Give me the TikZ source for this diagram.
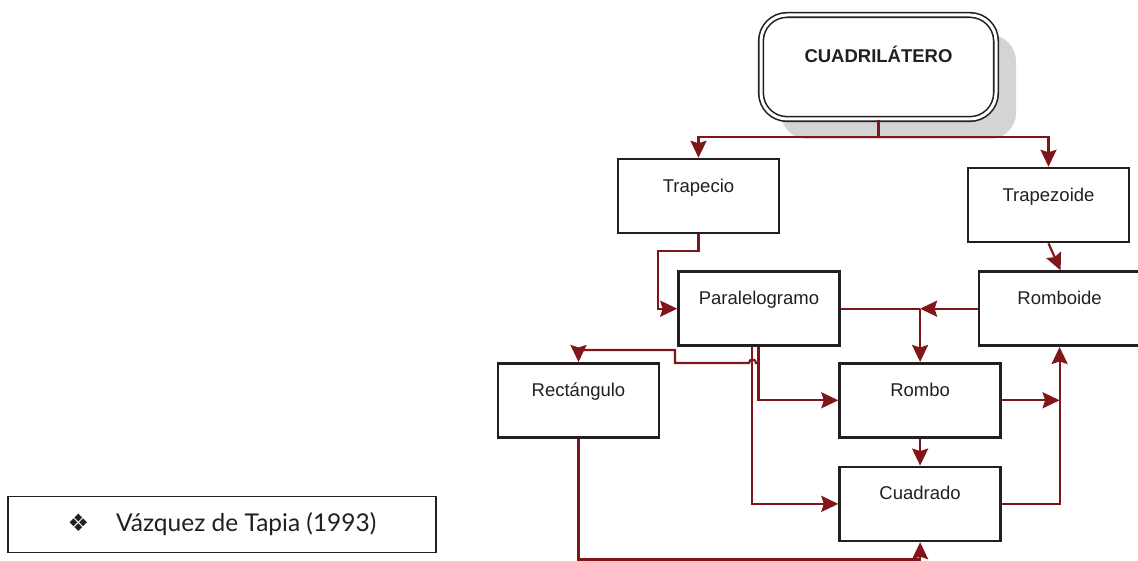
\documentclass[tikz,border=0pt]{standalone}
\usepackage{fontspec}
\setmainfont{Liberation Sans}
\newfontfamily\refsans{Lato}
\newfontfamily\symsans{DejaVu Sans}
\usepackage{xcolor}
\usetikzlibrary{positioning, arrows.meta, shadows}

\definecolor{linkred}{RGB}{128,22,26}
\definecolor{boxline}{RGB}{35,31,32}

\begin{document}
\begin{tikzpicture}[
  x=1pt, y=1pt,
  >={Stealth[length=17pt, width=16pt, inset=2.5pt]},
  every node/.style={font=\fontsize{18.5}{22}\selectfont, align=center, text=boxline},
  box/.style={draw=boxline, line width=2.6pt, minimum width=161pt, inner xsep=4pt, inner ysep=0pt,
              text height=33pt, text depth=41pt},
  topbox/.style={draw=boxline, double=white, double distance=3pt, line width=1.6pt, rounded corners=26pt,
                 fill=white, minimum width=235pt, inner ysep=0pt, text height=48pt, text depth=56pt,
                 font=\fontsize{18.5}{22}\selectfont\bfseries,
                 drop shadow={shadow xshift=20pt, shadow yshift=-20pt, fill=black!17, opacity=1}},
  link/.style={draw=linkred, line width=2.2pt},
]
\useasboundingbox (0,0) rectangle (1138,561);

% Row 1: root
\node[topbox] (cuad) at (878.5,494) {CUADRILÁTERO};

% Row 2
\node[box, below=38pt of cuad, xshift=-180pt] (trapecio) {Trapecio};
\node[box, below=47pt of cuad, xshift=170pt] (trapezoide) {Trapezoide};

% Row 3
\node[box, below=36pt of trapecio, xshift=60.5pt] (paralelo) {Paralelogramo};
\node[box, right=137pt of paralelo] (romboide) {Romboide};

% Row 4 and 5
\node[box, below=15pt of paralelo, xshift=-180.5pt] (rect) {Rectángulo};
\node[box, right=178pt of rect] (rombo) {Rombo};
\node[box, below=27pt of rombo] (cuadrado) {Cuadrado};

% Source
\node[draw=boxline, line width=1.8pt, minimum width=428pt, minimum height=56pt, inner sep=0pt,
      font=\refsans\fontsize{24.5}{28}\selectfont] (source) at (222,36.5)
      {{\symsans\fontsize{24}{24}\selectfont ❖}\hspace{27pt}Vázquez de Tapia (1993)};

% Junctions
\coordinate (split) at ([yshift=-17pt]cuad.south);
\coordinate (pjoin) at (rombo.north |- paralelo.east);
\coordinate (rjoin) at (romboide.south |- rombo.east);
\coordinate (floor) at (0,1.5);

% Edges
\draw[link] (cuad.south) -- (split);
\draw[link, ->] (split) -| (trapecio.north);
\draw[link, ->] (split) -| (trapezoide.north);
\draw[link, ->] (trapecio.south) |- ++(-40.5,-17) |- (paralelo.west);
\draw[link, ->] (trapezoide.south) -- ([xshift=1pt]romboide.north);
\draw[link] (paralelo.east) -- (pjoin);
\draw[link, ->] (romboide.west) -- (pjoin);
\draw[link, ->] (pjoin) -- (rombo.north);
\draw[link, ->] ([xshift=-0.5pt]paralelo.south) |- (rombo.west);
\draw[link, ->] ([xshift=-7pt]paralelo.south) |- (cuadrado.west);
\draw[link, ->] ([xshift=-0.5pt, yshift=-16pt]paralelo.south) -- ++(-2.5,0)
  arc[start angle=0, end angle=180, radius=3.5] -- ++(-74,0) -- ++(0,13) -| (rect.north);
\draw[link, ->] (rombo.south) -- (cuadrado.north);
\draw[link, ->] (rombo.east) -- (rjoin);
\draw[link, ->] (cuadrado.east) -| (romboide.south);
\draw[link, ->] (rect.south) -- (rect.south |- floor) -| (cuadrado.south);
\end{tikzpicture}
\end{document}
